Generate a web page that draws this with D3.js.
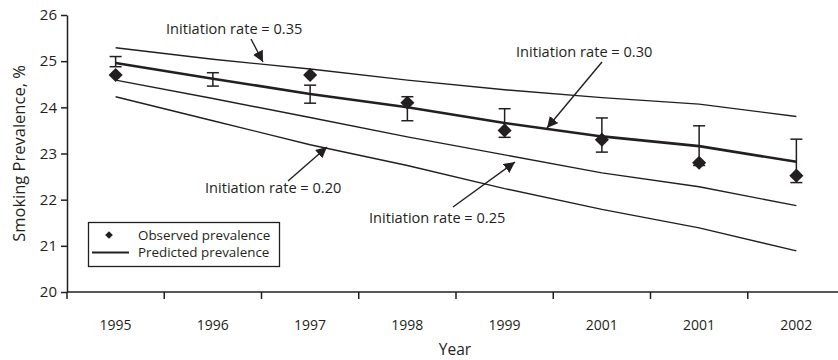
<!DOCTYPE html>
<html lang="en">
<head>
    <meta charset="UTF-8">
    <title>Smoking prevalence</title>
    <script src="https://d3js.org/d3.v7.min.js"></script>
    <style>
        body { margin: 0; background: #fff; }
        text { font-family: "Open Sans", "Noto Sans", sans-serif; fill: #231f20; }
        .axis path, .axis line { stroke: #231f20; stroke-width: 1.5; }
        .axis text { font-size: 14px; font-family: "Open Sans", sans-serif; fill: #231f20; }
        .axis.y text { font-size: 15px; }
    </style>
</head>
<body>
    <svg id="chart"></svg>

    <script>
        // Years (the source labels two years "2001")
        var years = ["1995", "1996", "1997", "1998", "1999", "2001", "2001", "2002"];

        // Observed prevalence, % (no point shown for 1996)
        var observed = [24.7, null, 24.7, 24.1, 23.5, 23.3, 22.8, 22.52];
        var errLow  = [24.88, 24.46, 24.09, 23.71, 23.35, 23.03, 22.74, 22.37];
        var errHigh = [25.1, 24.75, 24.48, 24.23, 23.97, 23.77, 23.6, 23.31];

        // Predicted prevalence for each initiation rate
        var predicted030 = [24.96, 24.62, 24.29, 24.0, 23.66, 23.37, 23.16, 22.82];
        var rate035 = [25.29, 25.04, 24.83, 24.59, 24.38, 24.21, 24.07, 23.8];
        var rate025 = [24.59, 24.19, 23.78, 23.36, 22.97, 22.58, 22.28, 21.87];
        var rate020 = [24.23, 23.71, 23.19, 22.74, 22.24, 21.79, 21.39, 20.89];

        var yTicks = [20, 21, 22, 23, 24, 25, 26];

        var width = 838, height = 360;
        var mLeft = 67, mTop = 15, mBottom = 292;

        var svg = d3.select("#chart")
                    .attr("width", width)
                    .attr("height", height);

        var x = d3.scaleBand()
                  .domain(d3.range(years.length))
                  .range([mLeft, 845]);
        var cx = function(i) { return x(i) + x.bandwidth() / 2; };

        var y = d3.scaleLinear()
                  .domain([20, 26])
                  .range([mBottom, mTop]);

        // arrow head
        svg.append("defs").append("marker")
           .attr("id", "head")
           .attr("viewBox", "0 0 10 10")
           .attr("refX", 10).attr("refY", 5)
           .attr("markerWidth", 11).attr("markerHeight", 11)
           .attr("markerUnits", "userSpaceOnUse")
           .attr("orient", "auto")
           .append("path")
           .attr("d", "M0,0L10,5L0,10Z")
           .attr("fill", "#231f20");

        // X axis with ticks on band boundaries
        var xAxis = svg.append("g")
           .attr("class", "axis")
           .attr("transform", "translate(0," + mBottom + ")");
        xAxis.append("path")
           .attr("d", "M" + mLeft + ",0H" + width)
           .attr("fill", "none");
        xAxis.selectAll(".tk")
           .data(d3.range(years.length))
           .enter().append("line")
           .attr("x1", function(i) { return x(i); })
           .attr("x2", function(i) { return x(i); })
           .attr("y1", 0).attr("y2", 7);
        xAxis.selectAll(".lb")
           .data(d3.range(years.length))
           .enter().append("text")
           .attr("x", cx)
           .attr("y", 38)
           .attr("text-anchor", "middle")
           .text(function(i) { return years[i]; });

        // Y axis
        svg.append("g")
           .attr("class", "axis y")
           .attr("transform", "translate(" + mLeft + ",0)")
           .call(d3.axisLeft(y).tickValues(yTicks).tickFormat(d3.format("d"))
                   .tickSize(6).tickSizeOuter(0).tickPadding(4))
           .call(function(g) { g.select(".domain").attr("fill", "none"); });

        // Axis titles
        svg.append("text")
           .attr("transform", "translate(25," + ((mTop + mBottom) / 2) + ") rotate(-90)")
           .attr("text-anchor", "middle")
           .attr("font-size", 16.5)
           .text("Smoking Prevalence, %");
        svg.append("text")
           .attr("x", 455).attr("y", 355)
           .attr("text-anchor", "middle")
           .attr("font-size", 15.5)
           .text("Year");

        // Lines
        var line = d3.line()
                     .x(function(d, i) { return cx(i); })
                     .y(function(d) { return y(d); });

        [rate035, rate025, rate020].forEach(function(s) {
            svg.append("path")
               .datum(s)
               .attr("d", line)
               .attr("fill", "none")
               .attr("stroke", "#231f20")
               .attr("stroke-width", 1.4);
        });
        svg.append("path")
           .datum(predicted030)
           .attr("d", line)
           .attr("fill", "none")
           .attr("stroke", "#231f20")
           .attr("stroke-width", 2.6);

        // Error bars
        var eb = svg.append("g").attr("stroke", "#231f20").attr("stroke-width", 1.5);
        years.forEach(function(yr, i) {
            eb.append("line").attr("x1", cx(i)).attr("x2", cx(i))
              .attr("y1", y(errLow[i])).attr("y2", y(errHigh[i]));
            [errLow[i], errHigh[i]].forEach(function(v) {
                eb.append("line").attr("x1", cx(i) - 6).attr("x2", cx(i) + 6)
                  .attr("y1", y(v)).attr("y2", y(v));
            });
        });

        // Observed points (diamonds)
        var diamond = d3.symbol().type(d3.symbolSquare).size(100);
        svg.selectAll(".pt")
           .data(observed.map(function(v, i) { return { v: v, i: i }; })
                         .filter(function(d) { return d.v != null; }))
           .enter().append("path")
           .attr("d", diamond)
           .attr("transform", function(d) {
               return "translate(" + cx(d.i) + "," + y(d.v) + ") rotate(45)";
           })
           .attr("fill", "#231f20");

        // Annotations
        var notes = [
            { t: "Initiation rate = 0.35", tx: 166, ty: 34, x1: 251, y1: 39, x2: 263, y2: 62 },
            { t: "Initiation rate = 0.30", tx: 516, ty: 57, x1: 602, y1: 62, x2: 547, y2: 128 },
            { t: "Initiation rate = 0.20", tx: 205, ty: 193, x1: 288, y1: 181, x2: 327, y2: 147 },
            { t: "Initiation rate = 0.25", tx: 369, ty: 223, x1: 453, y1: 207, x2: 515, y2: 162 }
        ];
        notes.forEach(function(n) {
            svg.append("text")
               .attr("x", n.tx).attr("y", n.ty)
               .attr("font-size", 14.6)
               .text(n.t);
            svg.append("line")
               .attr("x1", n.x1).attr("y1", n.y1)
               .attr("x2", n.x2).attr("y2", n.y2)
               .attr("stroke", "#231f20")
               .attr("stroke-width", 1.4)
               .attr("marker-end", "url(#head)");
        });

        // Legend
        var lg = svg.append("g");
        lg.append("rect")
          .attr("x", 88.5).attr("y", 222.5)
          .attr("width", 191).attr("height", 44)
          .attr("fill", "#fff")
          .attr("stroke", "#231f20")
          .attr("stroke-width", 1.3);
        lg.append("path")
          .attr("d", d3.symbol().type(d3.symbolSquare).size(30))
          .attr("transform", "translate(109,235) rotate(45)")
          .attr("fill", "#231f20");
        lg.append("line")
          .attr("x1", 92).attr("x2", 129)
          .attr("y1", 252.5).attr("y2", 252.5)
          .attr("stroke", "#231f20")
          .attr("stroke-width", 2);
        lg.append("text").attr("x", 138).attr("y", 240).attr("font-size", 13.4).text("Observed prevalence");
        lg.append("text").attr("x", 138).attr("y", 257).attr("font-size", 13.4).text("Predicted prevalence");
    </script>
</body>
</html>
